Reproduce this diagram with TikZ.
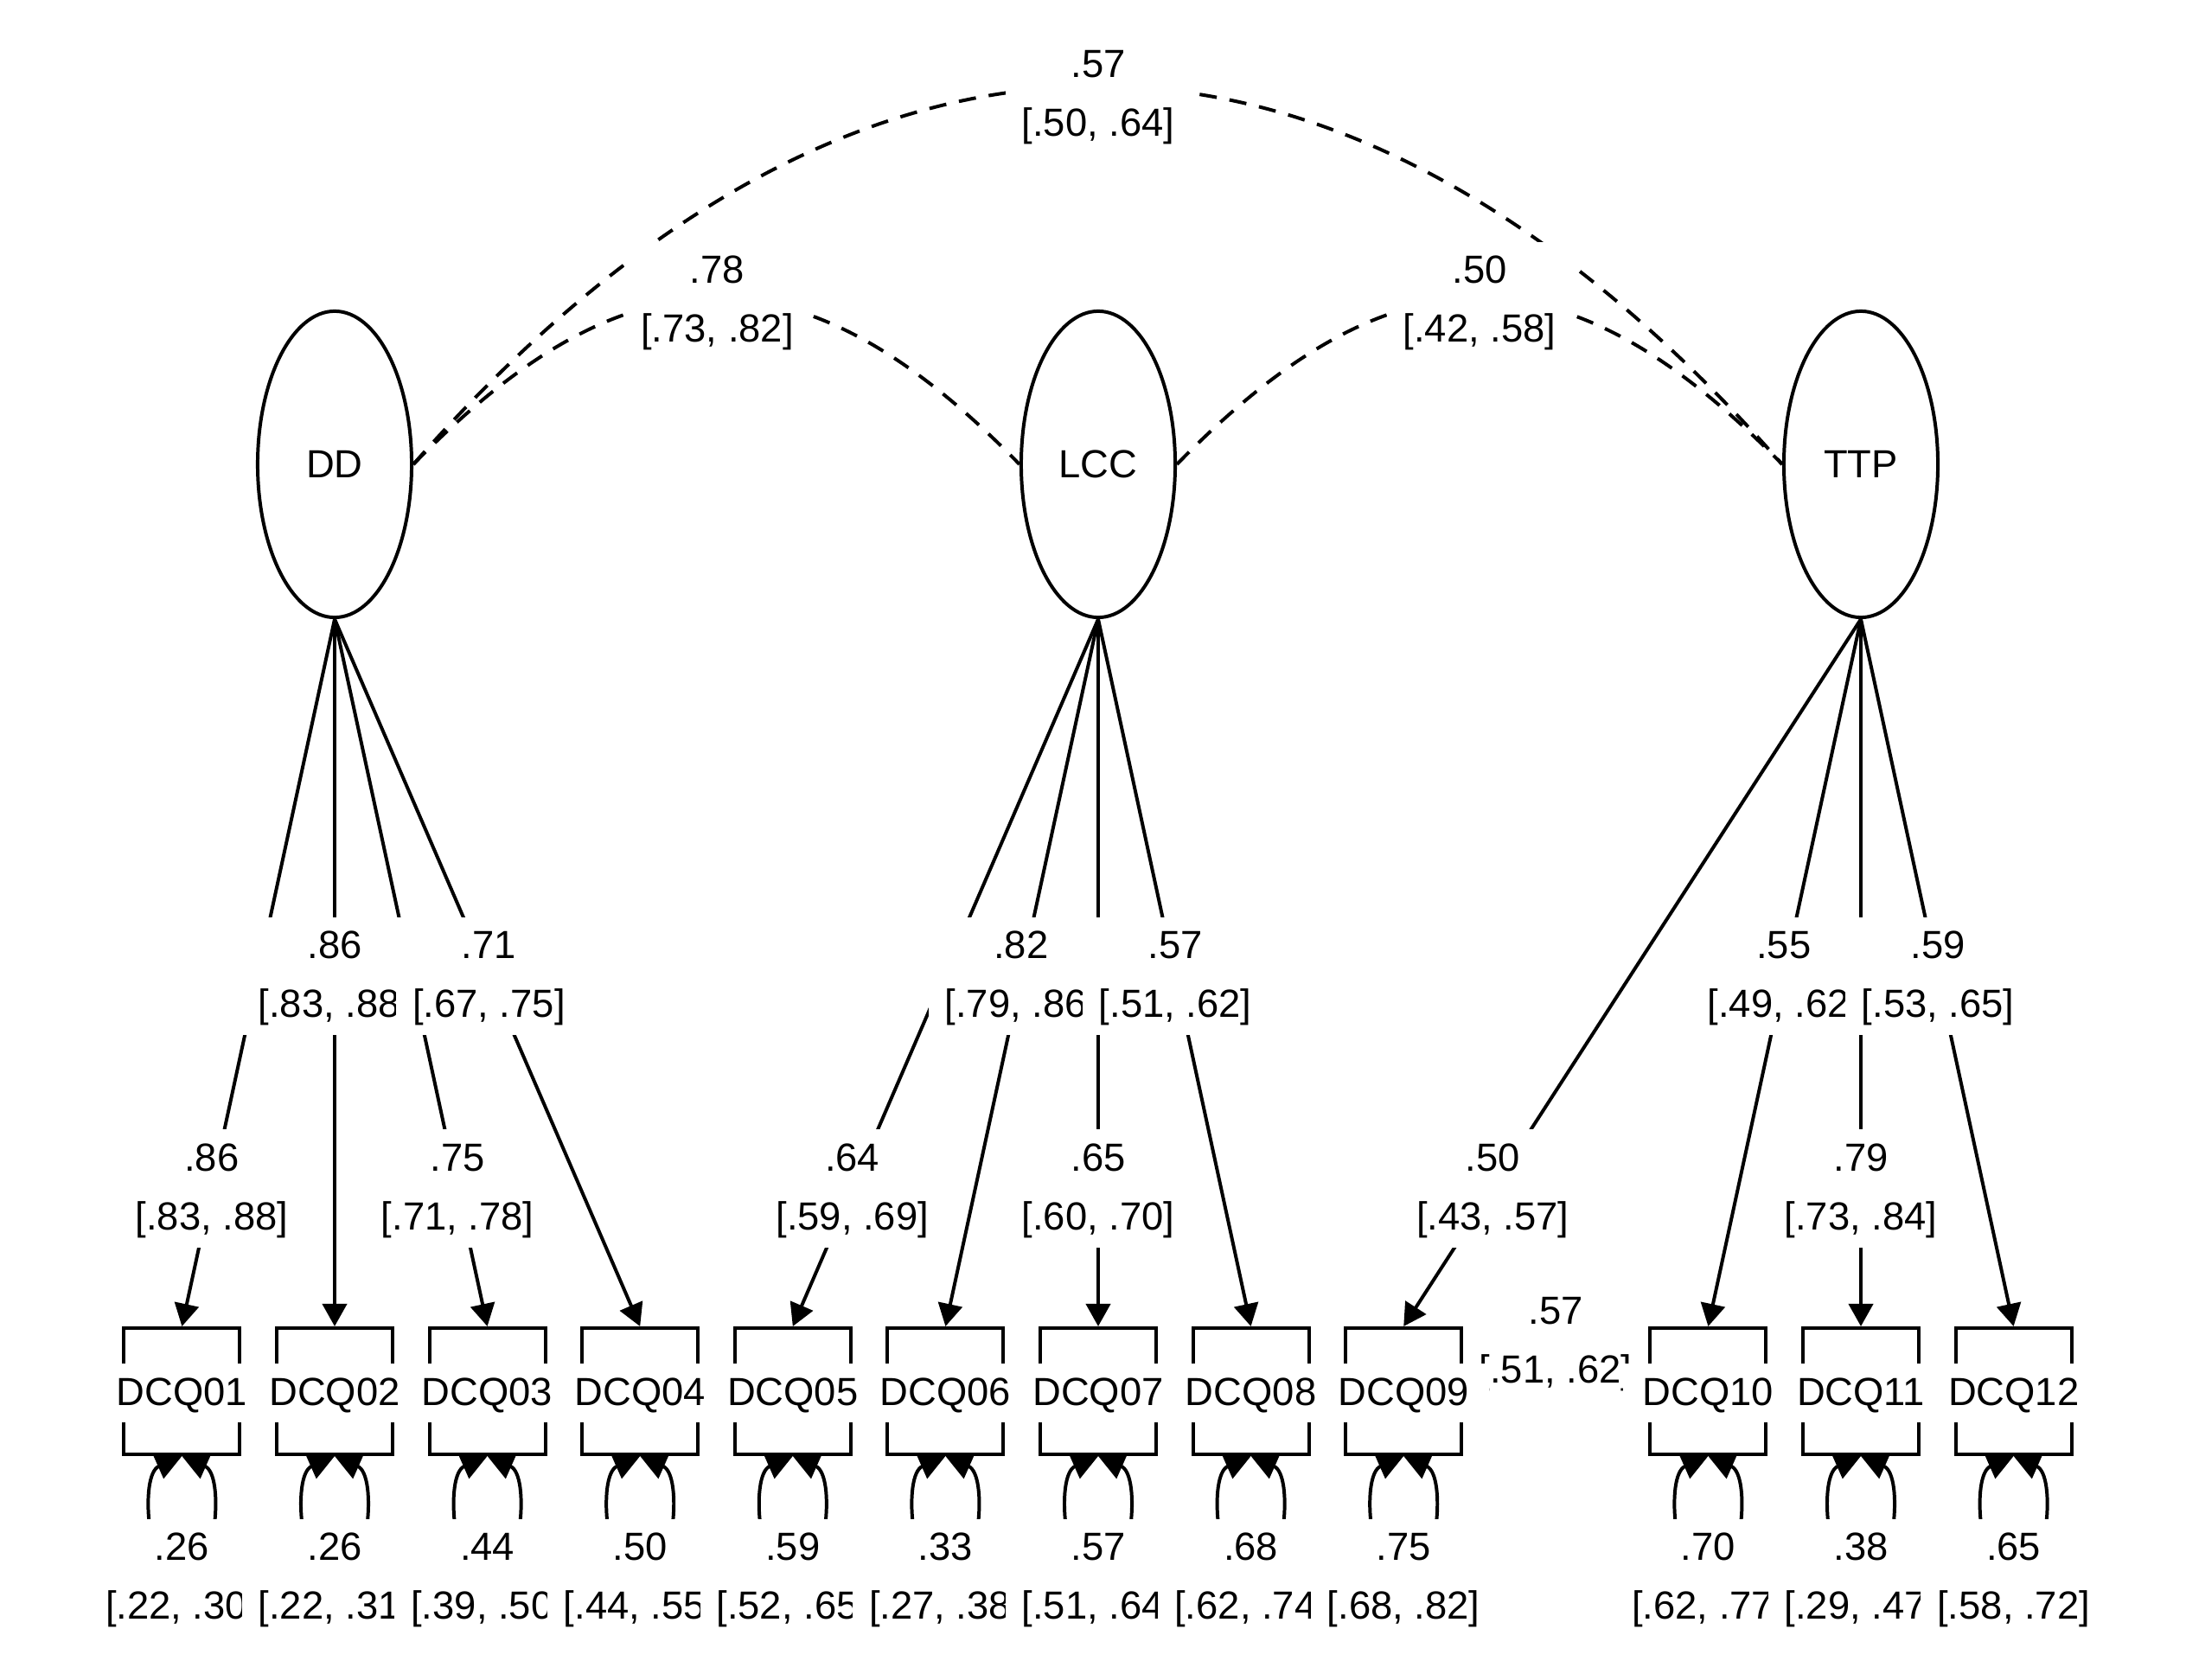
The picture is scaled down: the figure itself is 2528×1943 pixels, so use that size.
\documentclass[tikz,border=0pt]{standalone}
\usepackage{fontspec}
\setmainfont{Liberation Sans}
\usetikzlibrary{arrows.meta,calc,shapes.geometric,backgrounds}
\begin{document}
\begin{tikzpicture}[x=0.01cm,y=-0.01cm,
  every node/.style={font=\fontsize{12.9}{19.35}\selectfont},
  lat/.style={draw, ellipse, line width=1.13pt, minimum width=1.78cm, minimum height=3.54cm, inner sep=0pt},
  obs/.style={draw, fill=white, rectangle, line width=1.13pt, minimum width=1.34cm, minimum height=1.46cm, inner sep=0pt},
  ld/.style={line width=1.13pt, -{Triangle[length=0.26cm,width=0.28cm]}},
  rv/.style={line width=1.13pt, {Triangle[length=0.3cm,width=0.3cm]}-{Triangle[length=0.3cm,width=0.3cm]}},
  cov/.style={line width=1.13pt, dash pattern=on 0.2cm off 0.15cm},
  lab/.style={fill=white, inner xsep=0.19cm, inner ysep=0pt, align=center},
  dtext/.style={fill=white, inner xsep=0.23cm, inner ysep=0pt, anchor=base}
]
\useasboundingbox (0,0) rectangle (2528,1943);

% latent variables
\node[lat] (DD)  at (387,537)  {DD};
\node[lat] (LCC) at (1270,537) {LCC};
\node[lat] (TTP) at (2152,537) {TTP};

% observed variables (boxes)
\node[obs] (b1)  at (210.4,1609) {};
\node[obs] (b2)  at (387,1609) {};
\node[obs] (b3)  at (563.6,1609) {};
\node[obs] (b4)  at (740.2,1609) {};
\node[obs] (b5)  at (916.8,1609) {};
\node[obs] (b6)  at (1093.4,1609) {};
\node[obs] (b7)  at (1270,1609) {};
\node[obs] (b8)  at (1446.6,1609) {};
\node[obs] (b9)  at (1623.2,1609) {};
\node[obs] (b10) at (1975.4,1609) {};
\node[obs] (b11) at (2152,1609) {};
\node[obs] (b12) at (2328.6,1609) {};

% residual variances (behind the boxes)
\begin{scope}[on background layer]
\fill[white] (0,0) rectangle (2528,1943);
\foreach \i in {1,...,12}
  \draw[rv] (b\i.south) .. controls +(-50,22) and +(-40,-30) .. ++(0,170)
                        .. controls +(40,-30) and +(50,22) .. (b\i.south);
% residual covariance DCQ09 - DCQ10
\draw[cov] (b9.east) .. controls +(50,-76) and +(-50,-76) .. (b10.west);
\end{scope}

% loadings
\foreach \l/\b in {DD/b1,DD/b2,DD/b3,DD/b4,LCC/b5,LCC/b6,LCC/b7,LCC/b8,TTP/b9,TTP/b10,TTP/b11,TTP/b12}
  \draw[ld] (\l.south) -- (\b.north);

% latent covariances
\draw[cov] (DD.east) .. controls +(250,-256) and +(-250,-256) .. (LCC.west);
\draw[cov] (LCC.east) .. controls +(250,-256) and +(-250,-256) .. (TTP.west);
\draw[cov] (DD.east) .. controls +(514,-583) and +(-514,-583) .. (TTP.west);

% loading labels
\node[lab] (l1)  at ($(DD.south)!0.805!(b1.north)$)  {\strut .86\\\strut [.83, .88]};
\node[lab] (l2)  at ($(DD.south)!0.505!(b2.north)$)  {\strut .86\\\strut [.83, .88]};
\node[lab] (l3)  at ($(DD.south)!0.805!(b3.north)$)  {\strut .75\\\strut [.71, .78]};
\node[lab] (l4)  at ($(DD.south)!0.505!(b4.north)$)  {\strut .71\\\strut [.67, .75]};
\node[lab] (l5)  at ($(LCC.south)!0.805!(b5.north)$) {\strut .64\\\strut [.59, .69]};
\node[lab] (l6)  at ($(LCC.south)!0.505!(b6.north)$) {\strut .82\\\strut [.79, .86]};
\node[lab] (l7)  at ($(LCC.south)!0.805!(b7.north)$) {\strut .65\\\strut [.60, .70]};
\node[lab] (l8)  at ($(LCC.south)!0.505!(b8.north)$) {\strut .57\\\strut [.51, .62]};
\node[lab] (l9)  at ($(TTP.south)!0.805!(b9.north)$) {\strut .50\\\strut [.43, .57]};
\node[lab] (l10) at ($(TTP.south)!0.505!(b10.north)$) {\strut .55\\\strut [.49, .62]};
\node[lab] (l11) at ($(TTP.south)!0.805!(b11.north)$) {\strut .79\\\strut [.73, .84]};
\node[lab] (l12) at ($(TTP.south)!0.505!(b12.north)$) {\strut .59\\\strut [.53, .65]};

% covariance labels
\node[lab] (c12) at (829.5,348) {\strut .78\\\strut [.73, .82]};
\node[lab] (c23) at (1711,348)  {\strut .50\\\strut [.42, .58]};
\node[lab] (c13) at (1270,110)  {\strut .57\\\strut [.50, .64]};

% residual labels
\node[lab] (r1)  at ($(b1.center)+(0,216)$)  {\strut .26\\\strut [.22, .30]};
\node[lab] (r2)  at ($(b2.center)+(0,216)$)  {\strut .26\\\strut [.22, .31]};
\node[lab] (r3)  at ($(b3.center)+(0,216)$)  {\strut .44\\\strut [.39, .50]};
\node[lab] (r4)  at ($(b4.center)+(0,216)$)  {\strut .50\\\strut [.44, .55]};
\node[lab] (r5)  at ($(b5.center)+(0,216)$)  {\strut .59\\\strut [.52, .65]};
\node[lab] (r6)  at ($(b6.center)+(0,216)$)  {\strut .33\\\strut [.27, .38]};
\node[lab] (r7)  at ($(b7.center)+(0,216)$)  {\strut .57\\\strut [.51, .64]};
\node[lab] (r8)  at ($(b8.center)+(0,216)$)  {\strut .68\\\strut [.62, .74]};
\node[lab] (r9)  at ($(b9.center)+(0,216)$)  {\strut .75\\\strut [.68, .82]};
\node[lab] (r10) at ($(b10.center)+(0,216)$) {\strut .70\\\strut [.62, .77]};
\node[lab] (r11) at ($(b11.center)+(0,216)$) {\strut .38\\\strut [.29, .47]};
\node[lab] (r12) at ($(b12.center)+(0,216)$) {\strut .65\\\strut [.58, .72]};

% residual covariance label
\node[lab] (c910) at (1799,1552) {\strut .57\\\strut [.51, .62]};

% observed variable names
\node[dtext] (t1)  at ($(b1.center)+(0,16)$)  {\strut DCQ01};
\node[dtext] (t2)  at ($(b2.center)+(0,16)$)  {\strut DCQ02};
\node[dtext] (t3)  at ($(b3.center)+(0,16)$)  {\strut DCQ03};
\node[dtext] (t4)  at ($(b4.center)+(0,16)$)  {\strut DCQ04};
\node[dtext] (t5)  at ($(b5.center)+(0,16)$)  {\strut DCQ05};
\node[dtext] (t6)  at ($(b6.center)+(0,16)$)  {\strut DCQ06};
\node[dtext] (t7)  at ($(b7.center)+(0,16)$)  {\strut DCQ07};
\node[dtext] (t8)  at ($(b8.center)+(0,16)$)  {\strut DCQ08};
\node[dtext] (t9)  at ($(b9.center)+(0,16)$)  {\strut DCQ09};
\node[dtext] (t10) at ($(b10.center)+(0,16)$) {\strut DCQ10};
\node[dtext] (t11) at ($(b11.center)+(0,16)$) {\strut DCQ11};
\node[dtext] (t12) at ($(b12.center)+(0,16)$) {\strut DCQ12};
\end{tikzpicture}
\end{document}
